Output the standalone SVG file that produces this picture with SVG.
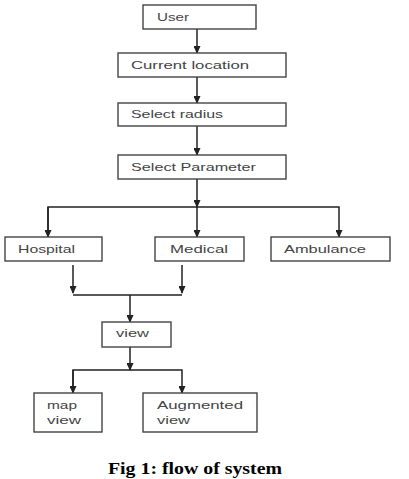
<svg xmlns="http://www.w3.org/2000/svg" width="409" height="479" viewBox="0 0 409 479">
<defs>
<marker id="ah" markerWidth="8" markerHeight="7" refX="7" refY="3.5" orient="auto" markerUnits="userSpaceOnUse">
<path d="M0,0 L8,3.5 L0,7 Z" fill="#222"/>
</marker>
</defs>
<style>
.box{fill:#fff;stroke:#444;stroke-width:1.4}
.t{font-family:"Liberation Sans",Arial,sans-serif;font-size:11px;fill:#444}
.ln{fill:none;stroke:#222;stroke-width:1.5}
.cap{font-family:"Liberation Serif","Times New Roman",serif;font-weight:bold;font-size:16px;fill:#000}
</style>
<rect width="409" height="479" fill="#fff"/>
<g id="connectors">
<line class="ln" x1="197" y1="29" x2="197" y2="53" marker-end="url(#ah)"/>
<line class="ln" x1="197" y1="77" x2="197" y2="103" marker-end="url(#ah)"/>
<line class="ln" x1="197" y1="126" x2="197" y2="155" marker-end="url(#ah)"/>
<line class="ln" x1="197" y1="179" x2="197" y2="207" marker-end="url(#ah)"/>
<polyline class="ln" points="48,237 48,207 339,207 339,237" marker-end="url(#ah)"/>
<line class="ln" x1="48" y1="207" x2="48" y2="237" marker-end="url(#ah)"/>
<line class="ln" x1="197" y1="207" x2="197" y2="237" marker-end="url(#ah)"/>
<line class="ln" x1="73" y1="265" x2="73" y2="293" marker-end="url(#ah)"/>
<line class="ln" x1="182" y1="265" x2="182" y2="293" marker-end="url(#ah)"/>
<line class="ln" x1="73" y1="295" x2="182" y2="295"/>
<line class="ln" x1="130" y1="295" x2="130" y2="322" marker-end="url(#ah)"/>
<line class="ln" x1="130" y1="347" x2="130" y2="370" marker-end="url(#ah)"/>
<polyline class="ln" points="73,393 73,370 182,370 182,393" marker-end="url(#ah)"/>
<line class="ln" x1="73" y1="370" x2="73" y2="393" marker-end="url(#ah)"/>
</g>
<g id="user"><rect class="box" x="143" y="5" width="113" height="24"/><text class="t" x="157" y="21" textLength="32" lengthAdjust="spacingAndGlyphs">User</text></g>
<g id="current"><rect class="box" x="118" y="53" width="168" height="24"/><text class="t" x="131" y="69" textLength="118" lengthAdjust="spacingAndGlyphs">Current location</text></g>
<g id="radius"><rect class="box" x="118" y="103" width="168" height="23"/><text class="t" x="131" y="118" textLength="92" lengthAdjust="spacingAndGlyphs">Select radius</text></g>
<g id="parameter"><rect class="box" x="118" y="155" width="168" height="24"/><text class="t" x="131" y="171" textLength="125" lengthAdjust="spacingAndGlyphs">Select Parameter</text></g>
<g id="hospital"><rect class="box" x="5" y="237" width="97" height="24"/><text class="t" x="18" y="253" textLength="57" lengthAdjust="spacingAndGlyphs">Hospital</text></g>
<g id="medical"><rect class="box" x="155" y="237" width="89" height="24"/><text class="t" x="170" y="253" textLength="58" lengthAdjust="spacingAndGlyphs">Medical</text></g>
<g id="ambulance"><rect class="box" x="271" y="237" width="119" height="24"/><text class="t" x="284" y="253" textLength="82" lengthAdjust="spacingAndGlyphs">Ambulance</text></g>
<g id="view"><rect class="box" x="102" y="322" width="69" height="25"/><text class="t" x="116" y="337" textLength="33" lengthAdjust="spacingAndGlyphs">view</text></g>
<g id="mapview"><rect class="box" x="34" y="393" width="68" height="39"/><text class="t" x="47" y="409" textLength="30" lengthAdjust="spacingAndGlyphs">map</text><text class="t" x="47" y="424" textLength="34" lengthAdjust="spacingAndGlyphs">view</text></g>
<g id="augmented"><rect class="box" x="143" y="393" width="114" height="39"/><text class="t" x="157" y="409" textLength="86" lengthAdjust="spacingAndGlyphs">Augmented</text><text class="t" x="157" y="424" textLength="33" lengthAdjust="spacingAndGlyphs">view</text></g>
<text class="cap" x="108" y="474" textLength="174" lengthAdjust="spacingAndGlyphs">Fig 1: flow of system</text>
</svg>
